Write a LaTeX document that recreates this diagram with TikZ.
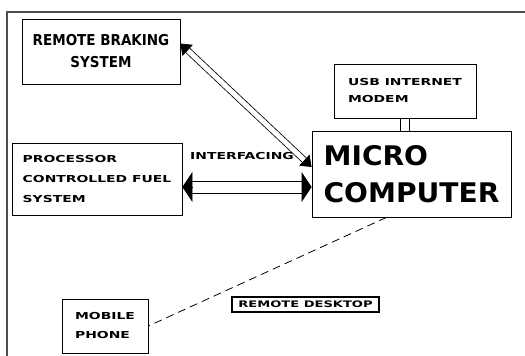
\documentclass[tikz,border=0pt]{standalone}
\usepackage{fontspec}
\usepackage{tikz}
\usetikzlibrary{arrows.meta}
\newfontfamily\widefont{DejaVu Sans}[FakeStretch=1.45]
\newfontfamily\narrowfont{DejaVu Sans Condensed}
\newfontfamily\heavyfont{DejaVu Sans}[FakeStretch=1.04]
\tikzset{
    fuelhead/.tip={Triangle[length=10pt, width=30pt]},
    brakehead/.tip={Triangle[length=10pt, width=15pt]}
}

\begin{document}
\begin{tikzpicture}[x=1pt, y=-1pt,
    block/.style={draw, line width=0.8pt, inner sep=0pt, align=left},
    wire/.style={line width=0.8pt}]
    \useasboundingbox (0,0) rectangle (525,356);
    \draw[gray!60!black, line width=1.2pt] (7,356) -- (7,12) -- (525,12); % frame

    \node[block, minimum width=158pt, minimum height=65pt, align=center,
        font=\narrowfont\bfseries\fontsize{15}{22}\selectfont] (brake) at (101,51.5) {REMOTE BRAKING\\SYSTEM};
    \node[block, minimum width=142pt, minimum height=54pt,
        font=\widefont\bfseries\fontsize{9.6}{17}\selectfont] (usb) at (405,91) {USB INTERNET\\MODEM};
    \node[block, minimum width=170pt, minimum height=72pt,
        font=\widefont\bfseries\fontsize{9.6}{20}\selectfont] (fuel) at (97,179) {PROCESSOR\\CONTROLLED FUEL\\SYSTEM};
    \node[block, minimum width=199pt, minimum height=86pt,
        font=\heavyfont\bfseries\fontsize{27}{37}\selectfont] (micro) at (411.5,174) {MICRO\\COMPUTER};
    \node[block, minimum width=86pt, minimum height=54pt,
        font=\widefont\bfseries\fontsize{9.6}{19}\selectfont] (phone) at (105,326) {MOBILE\\PHONE};
    \node[block, line width=1.2pt, minimum width=147pt, minimum height=15pt,
        font=\widefont\bfseries\fontsize{9}{11}\selectfont] (desk) at (305.5,304.5) {REMOTE DESKTOP};
    \node[anchor=west, inner sep=0pt,
        font=\widefont\bfseries\fontsize{9.6}{11}\selectfont] (iface) at (190,156.5) {INTERFACING};

    % brake-micro
    \draw[wire, double, double distance=5pt, brakehead-brakehead] ([yshift=8pt]brake.east) -- ([yshift=7pt]micro.west);
    % fuel-micro
    \draw[wire] ([shift={(10pt,-2pt)}]fuel.east) -- ([shift={(-10pt,-7pt)}]micro.west);
    \draw[wire] ([shift={(10pt,-14pt)}]fuel.east) -- ([shift={(-10pt,-19pt)}]micro.west);
    \draw[wire, -fuelhead] ([shift={(10pt,-8pt)}]fuel.east) -- ([yshift=-8pt]fuel.east);
    \draw[wire, -fuelhead] ([shift={(-10pt,-13pt)}]micro.west) -- ([yshift=-13pt]micro.west);
    % usb-micro
    \draw[wire] ([xshift=-4.5pt]usb.south) -- ([xshift=-4.5pt]usb.south |- micro.north);
    \draw[wire] ([xshift=4.5pt]usb.south) -- ([xshift=4.5pt]usb.south |- micro.north);
    % micro-phone
    \draw[wire, dash pattern=on 8pt off 5pt] ([xshift=-25pt]micro.south) -- (phone.east);
\end{tikzpicture}
\end{document}
